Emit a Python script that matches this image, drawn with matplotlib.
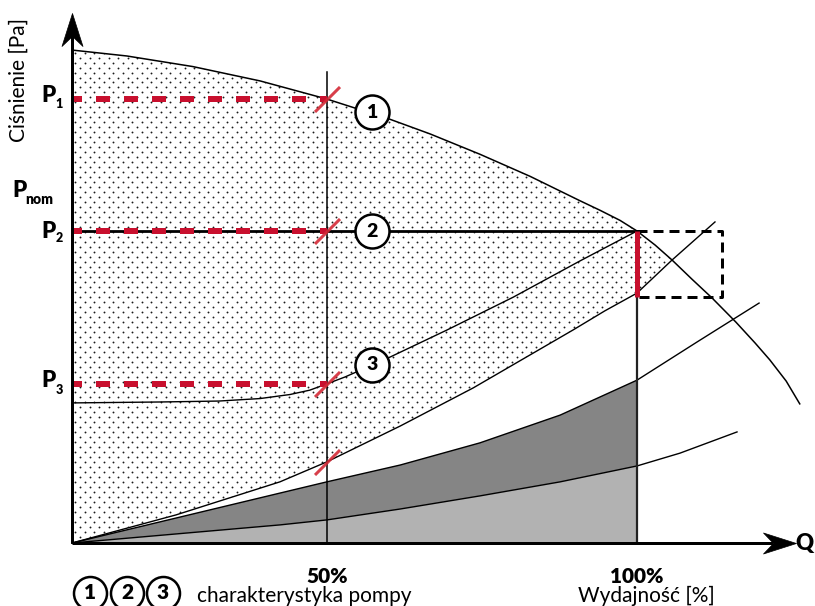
import numpy as np
import matplotlib
matplotlib.use("Agg")
import matplotlib.pyplot as plt
from matplotlib.path import Path
from matplotlib.patches import Polygon

plt.rcParams['font.family'] = ['Lato', 'DejaVu Sans']
plt.rcParams['lines.scale_dashes'] = False

# ---- data: flow Q (100 = nominal flow) and pressure (P2 = 100) ----
# pump characteristic at constant speed (1)
q_pump = [0, 9.7, 21.4, 33.3, 45.1, 56.3, 63.4, 72.2, 81.1, 89.9, 93.5, 97.0, 100,
          103.2, 106.2, 109.7, 113.3, 117.5, 120.9, 123.5, 126.4, 128.8]
h_pump = [158.0, 156.1, 152.7, 148.1, 142.3, 135.8, 131.1, 124.6, 117.5, 109.7,
          106.6, 103.4, 100.0, 95.5, 90.7, 84.6, 78.5, 70.8, 64.1, 58.7, 51.9, 44.6]

# proportional-pressure characteristic (3)
q_prop = [0, 15.6, 26.0, 33.3, 38.6, 42.1, 45.1, 48.3, 52.7, 56.3, 66.4, 78.1, 89.9, 100]
h_prop = [44.9, 45.2, 45.5, 46.3, 47.6, 49.0, 51.0, 53.2, 56.7, 59.6, 68.3, 78.8,
          90.4, 100.0]

# system curves
q_sys_a = [0, 18.4, 36.8, 45.1, 58.1, 71.0, 88.7, 94.3, 100, 106.2, 113.8]
h_sys_a = [0, 9.0, 19.6, 26.0, 37.5, 49.7, 68.3, 74.4, 80.1, 90.7, 102.9]
q_sys_b = [0, 18.4, 36.8, 45.1, 58.1, 72.2, 86.4, 100, 110.6, 121.6]
h_sys_b = [0, 8.0, 16.0, 19.6, 25.0, 32.1, 41.0, 52.2, 64.4, 76.9]
q_sys_c = [0, 36.8, 45.1, 58.1, 72.2, 86.4, 100, 107.6, 117.7]
h_sys_c = [0, 5.8, 7.4, 10.9, 15.1, 19.6, 24.7, 28.8, 35.6]

q_half = 45.1          # 50 % flow
q_full = 100.0         # 100 % flow
p1, p2, p3 = 142.3, 100.0, 51.0
p_sys_full = 78.8      # system pressure at nominal flow
q_box = 115.0          # right edge of the over-flow window
tick_pos = [q_half, q_full]
tick_labels = ['50%', '100%']
q_axis_end, h_axis_end = 128.1, 169.9

RED = '#c8102e'
PX = 0.72  # points per pixel

fig = plt.figure(figsize=(8.15, 6.06), dpi=100)
ax = fig.add_axes([0, 0, 1, 1])
ax.set_xlim(-12.74, 131.50)
ax.set_ylim(-20.19, 174.04)
ax.axis('off')

qa, ha = np.array(q_sys_a), np.array(h_sys_a)
qb, hb = np.array(q_sys_b), np.array(h_sys_b)
qc, hc = np.array(q_sys_c), np.array(h_sys_c)
qp, hp = np.array(q_pump), np.array(h_pump)

# grey bands under the system curves up to nominal flow
sb, sc = qb <= q_full, qc <= q_full
ax.fill(np.r_[qb[sb], qc[sc][::-1]], np.r_[hb[sb], hc[sc][::-1]],
        color='#858585', lw=0, zorder=1)
ax.fill(np.r_[qc[sc], q_full], np.r_[hc[sc], 0], color='#b2b2b2', lw=0, zorder=1)

# dotted operating area between pump curve and system curve A
q_cross = qa[-2]
sp = qp <= q_cross
sa = qa <= q_cross
region = Polygon(np.c_[np.r_[qp[sp], qa[sa][::-1]], np.r_[hp[sp], ha[sa][::-1]]],
                 closed=True, fc='none', ec='none')
ax.add_patch(region)
dx, dy = 1.68, 1.6
gx, gy = [], []
for i, yy in enumerate(np.arange(0.4, 160, dy)):
    xs = np.arange(0.6 + (i % 2) * dx / 2, 110, dx)
    gx.extend(xs)
    gy.extend([yy] * len(xs))
dots = ax.scatter(gx, gy, s=1.8, c='#1a1a1a', marker='o', lw=0, zorder=2)
dots.set_clip_path(region)

# curves
ax.plot(qp, hp, color='black', lw=1.1, zorder=3)
ax.plot(qa, ha, color='black', lw=1.0, zorder=3)
ax.plot(qb, hb, color='black', lw=1.0, zorder=3)
ax.plot(qc, hc, color='black', lw=1.0, zorder=3)
ax.plot(q_prop, h_prop, color='black', lw=1.0, zorder=3)

# reference lines
ax.plot([q_half, q_half], [0, 151], color='black', lw=1.1, zorder=3)
ax.plot([q_full, q_full], [0, p_sys_full], color='#222222', lw=1.6, zorder=3)
ax.plot([0, q_full], [p2, p2], color='black', lw=2.0, zorder=3)

# over-flow window
ax.plot([q_full, q_box, q_box, q_full], [p2, p2, p_sys_full, p_sys_full],
        color='black', lw=3 * PX, linestyle=(0, (10 * PX, 6 * PX)), zorder=4)
ax.plot([q_full, q_full], [p_sys_full, p2], color=RED, lw=5 * PX,
        solid_capstyle='butt', zorder=5)

# pressure levels at 50 % flow
for p in (p1, p2, p3):
    ax.plot([0, q_half], [p, p], color=RED, lw=6 * PX,
            linestyle=(4 * PX, (14 * PX, 14 * PX)), zorder=5)
slash = Path([(-1, -1), (1, 1)], [Path.MOVETO, Path.LINETO])
ax.plot([q_half] * 4, [p1, p2, p3, ha[3]], ls='none', marker=slash, ms=25 * PX,
        mec='#d42a36', mew=3 * PX, alpha=0.9, zorder=6)

# numbered characteristic markers
marks_q = [53.1, 53.1, 53.1]
marks_h = [138.1, p2, 57.1]
for k, (mq, mh) in enumerate(zip(marks_q, marks_h), start=1):
    ax.plot(mq, mh, 'o', ms=34 * PX, mfc='white', mec='black', mew=2.5 * PX, zorder=7)
    ax.text(mq, mh, str(k), ha='center', va='center', fontsize=14,
            fontweight='heavy', zorder=8)

# axes with arrowheads
ax.plot([0, 0], [0, h_axis_end - 7], color='black', lw=3 * PX,
        solid_capstyle='butt', zorder=9)
ax.plot([0, q_axis_end - 4], [0, 0], color='black', lw=3 * PX,
        solid_capstyle='butt', zorder=9)
head_up = Path([(0, 0), (-10.5, -33), (0, -23), (10.5, -33), (0, 0)],
               [Path.MOVETO, Path.LINETO, Path.LINETO, Path.LINETO, Path.CLOSEPOLY])
head_right = Path([(0, 0), (-33, 10.5), (-23, 0), (-33, -10.5), (0, 0)],
                  [Path.MOVETO, Path.LINETO, Path.LINETO, Path.LINETO, Path.CLOSEPOLY])
ax.plot(0, h_axis_end, marker=head_up, ms=66 * PX, mfc='black', mec='black',
        mew=0.5, zorder=10)
ax.plot(q_axis_end, 0, marker=head_right, ms=66 * PX, mfc='black', mec='black',
        mew=0.5, zorder=10)

# axis texts
ax.text(131.3, 0, 'Q', ha='right', va='center', fontsize=16, fontweight='heavy')
for pos, lab in zip(tick_pos, tick_labels):
    ax.text(pos, -10.6, lab, ha='center', va='center', fontsize=15, fontweight='heavy')
ax.text(-9.38, 148.4, 'Ciśnienie [Pa]', rotation=90, ha='center', va='center',
        fontsize=15)
ax.text(101.6, -17.0, 'Wydajność [%]', ha='center', va='center', fontsize=15)

# pressure labels
for main_y, sub, sub_y in [(143.4, '1', 140.7), (p2, '2', 97.8), (52.2, '3', 49.0)]:
    ax.text(-2.9, main_y, 'P', ha='right', va='center', fontsize=16, fontweight='heavy')
    ax.text(-2.9, sub_y, sub, ha='left', va='center', fontsize=9, fontweight='heavy')
ax.text(-7.96, 113.1, 'P', ha='right', va='center', fontsize=16, fontweight='heavy')
ax.text(-8.3, 110.1, 'nom', ha='left', va='center', fontsize=10, fontweight='heavy')

# legend line at the bottom
leg_q = [3.19, 9.73, 16.1]
for k, lq in enumerate(leg_q, start=1):
    ax.plot(lq, -16.0, 'o', ms=33 * PX, mfc='white', mec='black', mew=2.5 * PX,
            zorder=7)
    ax.text(lq, -16.0, str(k), ha='center', va='center', fontsize=15,
            fontweight='heavy', zorder=8)
ax.text(22.1, -17.0, 'charakterystyka pompy', ha='left', va='center', fontsize=15)

fig.savefig('out.png', dpi=100)
